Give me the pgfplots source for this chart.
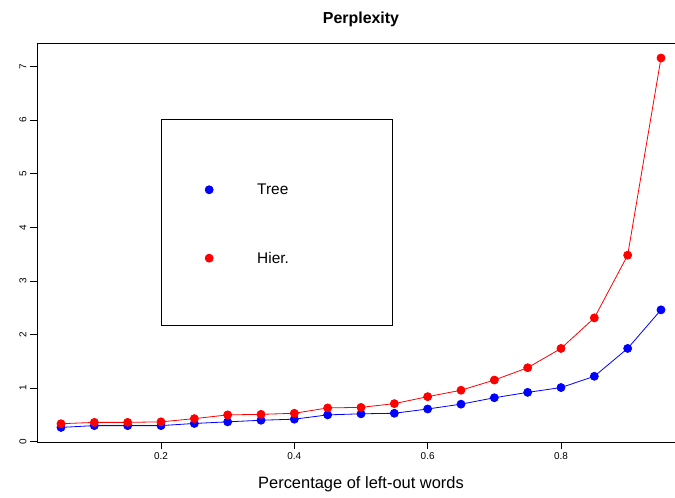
\documentclass[border=0pt]{standalone}
\usepackage{fontspec}
\setmainfont{Liberation Sans}
\usepackage{pgfplots}
\pgfplotsset{compat=1.18}
\begin{document}
\begin{tikzpicture}
\begin{axis}[
  scale only axis, width=648bp, height=399bp,
  xmin=0.014, xmax=0.986, ymin=-0.006, ymax=7.44,
  axis x line=box, axis y line=left,
  axis line style={line width=0.8bp, -},
  xtick pos=lower, ytick pos=left, tick align=outside,
  xtick={0.2,0.4,0.6,0.8}, ytick={0,1,2,3,4,5,6,7},
  major tick length=7bp,
  tick style={black, line width=0.8bp},
  /pgf/number format/assume math mode=true,
  xticklabel style={font=\fontsize{10}{12}\selectfont, /pgf/number format/.cd, fixed, precision=1},
  yticklabel style={font=\fontsize{10}{12}\selectfont, rotate=90, anchor=south},
  title={Perplexity},
  title style={at={(0.5,1)}, anchor=center, yshift=18bp, font=\fontsize{16}{19}\selectfont\bfseries},
  xlabel={Percentage of left-out words},
  xlabel style={at={(axis description cs:0.5,0)}, anchor=center, yshift=-42bp, font=\fontsize{16.5}{19}\selectfont},
  legend image code/.code={\draw[#1] plot coordinates {(0bp,0bp)};},
  legend style={at={(axis cs:0.2615,4.06)}, anchor=west, draw=none, fill=none,
    font=\fontsize{15.5}{18}\selectfont, row sep=56bp, column sep=44bp,
    nodes={inner sep=0pt}},
  legend cell align=left,
]
\addplot[blue, line width=0.8bp, mark=*, mark size=4bp, mark options={solid, fill=blue}] coordinates {
(0.05,0.266) (0.10,0.30) (0.15,0.30) (0.20,0.30) (0.25,0.34) (0.30,0.37) (0.35,0.40) (0.40,0.42) (0.45,0.50) (0.50,0.52)
(0.55,0.53) (0.60,0.61) (0.65,0.70) (0.70,0.82) (0.75,0.92) (0.80,1.01) (0.85,1.22) (0.90,1.74) (0.95,2.46)};
\addlegendentry{Tree}
\addplot[red, line width=0.8bp, mark=*, mark size=4bp, mark options={solid, fill=red}] coordinates {
(0.05,0.335) (0.10,0.36) (0.15,0.36) (0.20,0.37) (0.25,0.43) (0.30,0.50) (0.35,0.51) (0.40,0.53) (0.45,0.63) (0.50,0.64)
(0.55,0.71) (0.60,0.84) (0.65,0.96) (0.70,1.15) (0.75,1.38) (0.80,1.74) (0.85,2.31) (0.90,3.48) (0.95,7.16)};
\addlegendentry{Hier.}
\draw[line width=0.8bp] (axis cs:0.2,2.177) rectangle (axis cs:0.5465,6.022);
\end{axis}
\pgfresetboundingbox
\path[use as bounding box] (-37bp,-56bp) rectangle (638bp,442bp);
\end{tikzpicture}
\end{document}
